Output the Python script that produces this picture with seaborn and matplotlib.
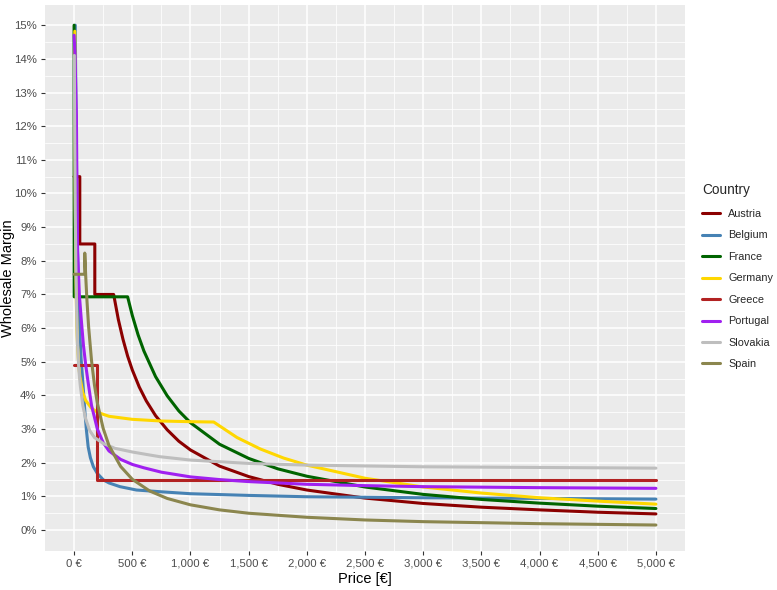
import pandas as pd
import matplotlib
matplotlib.use("Agg")
import matplotlib.pyplot as plt
import seaborn as sns

# Data, price in EUR, margin in %
countries = ['Austria', 'Belgium', 'France', 'Germany', 'Greece', 'Portugal', 'Slovakia', 'Spain']

austria_price = [0, 49, 49, 178, 178, 340, 380, 420, 460, 500, 560, 620, 700, 800, 900, 1000,
                 1250, 1500, 1750, 2000, 2500, 3000, 3500, 4000, 4500, 5000]
austria_margin = [10.5, 10.5, 8.5, 8.5, 7.0, 7.0, 6.26, 5.67, 5.17, 4.76, 4.25, 3.84, 3.4, 2.98, 2.64, 2.38,
                  1.9, 1.59, 1.36, 1.19, 0.95, 0.79, 0.68, 0.6, 0.53, 0.48]

belgium_price = [10, 15, 20, 25, 30, 40, 50, 60, 75, 92, 105, 121, 140, 166, 200, 252, 300, 394,
                 536, 737, 1000, 1500, 2000, 3000, 4000, 5000]
belgium_margin = [15.0, 13.0, 11.0, 9.5, 8.3, 6.7, 5.8, 5.1, 4.4, 3.55, 3.0, 2.47, 2.15, 1.88, 1.68, 1.49, 1.4, 1.29,
                  1.19, 1.14, 1.08, 1.03, 0.99, 0.96, 0.94, 0.92]

france_price = [0, 1, 460, 500, 550, 600, 700, 800, 900, 1000, 1250, 1500, 1750, 2000, 2500, 3000,
                3500, 4000, 4500, 5000]
france_margin = [15.0, 6.93, 6.93, 6.38, 5.8, 5.32, 4.56, 3.99, 3.54, 3.19, 2.55, 2.13, 1.82, 1.6, 1.28, 1.06,
                 0.91, 0.8, 0.71, 0.64]

germany_price = [6, 7, 8, 10, 12, 15, 20, 25, 30, 40, 50, 75, 100, 150, 200, 300, 500, 750, 1000, 1200,
                 1400, 1600, 1800, 2000, 2500, 3000, 3500, 4000, 4500, 5000]
germany_margin = [14.82, 13.15, 11.9, 10.15, 8.98, 7.82, 6.65, 5.95, 5.48, 4.9, 4.55, 4.08, 3.85, 3.62, 3.5, 3.38,
                  3.29, 3.24, 3.22, 3.21, 2.75, 2.41, 2.14, 1.93, 1.54, 1.28, 1.1, 0.96, 0.86, 0.77]

greece_price = [0, 201, 201, 5000]
greece_margin = [4.89, 4.89, 1.49, 1.49]

portugal_price = [0, 8, 20, 25, 30, 45, 63, 80, 100, 120, 150, 200, 250, 300, 400, 500, 600, 750,
                  1000, 1250, 1500, 2000, 2500, 3000, 4000, 5000]
portugal_margin = [14.7, 14.1, 12.3, 10.0, 8.3, 7.0, 6.2, 5.5, 4.9, 4.4, 3.7, 3.0, 2.6, 2.35, 2.1, 1.95, 1.85, 1.72,
                   1.58, 1.5, 1.44, 1.36, 1.32, 1.29, 1.26, 1.24]

slovakia_price = [2, 5, 10, 15, 20, 25, 30, 40, 53, 75, 100, 135, 175, 252, 350, 500, 650, 737,
                  1000, 1500, 2000, 3000, 4000, 5000]
slovakia_margin = [14.1, 12.0, 9.5, 8.0, 6.8, 6.0, 5.5, 4.8, 4.3, 3.7, 3.3, 2.95, 2.75, 2.57, 2.43, 2.32, 2.23, 2.18,
                   2.08, 1.98, 1.93, 1.88, 1.86, 1.84]

spain_price = [0, 91.6, 91.6, 100, 110, 125, 150, 175, 200, 250, 300, 400, 500, 650, 800, 1000,
               1250, 1500, 2000, 2500, 3000, 3500, 4000, 4500, 5000]
spain_margin = [7.6, 7.6, 8.23, 7.54, 6.85, 6.03, 5.03, 4.31, 3.77, 3.02, 2.51, 1.89, 1.51, 1.16, 0.94, 0.75,
                0.6, 0.5, 0.38, 0.3, 0.25, 0.22, 0.19, 0.17, 0.15]

series = {
    'Austria': (austria_price, austria_margin),
    'Belgium': (belgium_price, belgium_margin),
    'France': (france_price, france_margin),
    'Germany': (germany_price, germany_margin),
    'Greece': (greece_price, greece_margin),
    'Portugal': (portugal_price, portugal_margin),
    'Slovakia': (slovakia_price, slovakia_margin),
    'Spain': (spain_price, spain_margin),
}

colors = {
    'Austria': '#8B0000', 'Belgium': '#4682B4', 'France': '#006400', 'Germany': '#FFD700',
    'Greece': '#B22222', 'Portugal': '#A020F0', 'Slovakia': '#BEBEBE', 'Spain': '#8B864E',
}

x_ticks = [0, 500, 1000, 1500, 2000, 2500, 3000, 3500, 4000, 4500, 5000]
y_ticks = list(range(0, 16))

df = pd.concat(
    [pd.DataFrame({'Price': p, 'Margin': m, 'Country': c}) for c, (p, m) in series.items()],
    ignore_index=True,
)

# Style (ggplot-like grey panel)
sns.set_theme(style="darkgrid", rc={
    'axes.facecolor': '#EBEBEB',
    'grid.color': 'white',
    'figure.facecolor': 'white',
})
plt.rcParams['font.family'] = ['Liberation Sans', 'DejaVu Sans']

fig = plt.figure(figsize=(7.77, 5.9), dpi=100)
ax = fig.add_axes([45 / 777, 1 - 550.6 / 590, 640 / 777, 545.6 / 590])

sns.lineplot(data=df, x='Price', y='Margin', hue='Country', hue_order=countries, palette=colors,
             sort=False, estimator=None, linewidth=2.2, ax=ax)

ax.set_xlim(-250, 5250)
ax.set_ylim(-0.61, 15.6)
ax.set_xticks(x_ticks)
ax.set_xticklabels([f"{v:,} €" for v in x_ticks])
ax.set_yticks(y_ticks)
ax.set_yticklabels([f"{v}%" for v in y_ticks])
ax.set_xticks([v + 250 for v in x_ticks[:-1]], minor=True)
ax.set_yticks([v + 0.5 for v in y_ticks[:-1]], minor=True)
ax.grid(which='major', color='white', linewidth=1.1)
ax.grid(which='minor', color='white', linewidth=0.55)
ax.tick_params(which='major', length=3, width=0.8, color='#333333', labelsize=8.2,
               labelcolor='#4D4D4D', pad=3, bottom=True, left=True)
ax.tick_params(which='minor', length=0)
for s in ax.spines.values():
    s.set_visible(False)

ax.set_xlabel('Price [€]', fontsize=10.5, color='black', labelpad=2)
ax.set_ylabel('Wholesale Margin', fontsize=10.5, color='black')
ax.yaxis.set_label_coords(-0.047, 0.5)

handles, labels = ax.get_legend_handles_labels()
ax.get_legend().remove()
leg = fig.legend(handles, labels, title='Country', loc='upper left',
                 bbox_to_anchor=(697 / 777, 1 - 178 / 590), frameon=False,
                 fontsize=7.8, title_fontsize=9.8, handlelength=1.6, handletextpad=0.8,
                 labelspacing=1.06, borderpad=0, alignment='left')

fig.savefig('out.png', dpi=100)
